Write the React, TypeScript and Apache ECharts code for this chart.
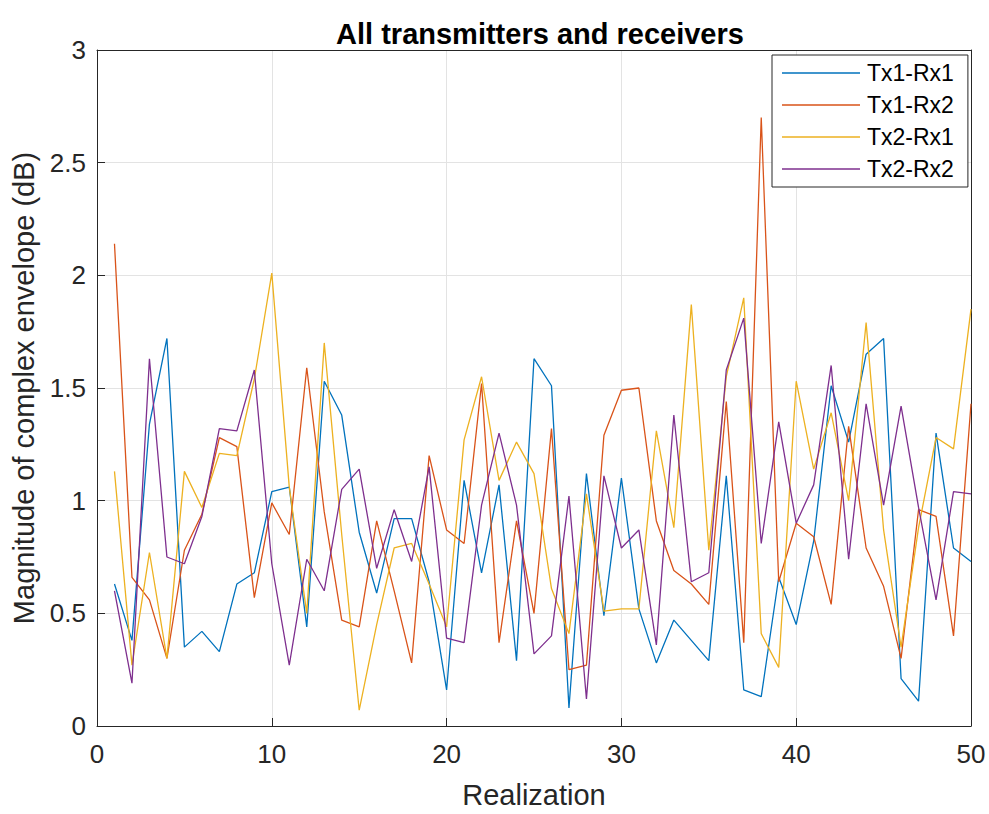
import React, { useEffect, useRef } from "react";
import * as echarts from "echarts";

const realizations: number[] = Array.from({ length: 50 }, (_, i) => i + 1);

const seriesNames: string[] = ["Tx1-Rx1", "Tx1-Rx2", "Tx2-Rx1", "Tx2-Rx2"];

const tx1rx1: number[] = [
  0.63, 0.38, 1.34, 1.72, 0.35, 0.42, 0.33, 0.63, 0.68, 1.04,
  1.06, 0.44, 1.53, 1.38, 0.86, 0.59, 0.92, 0.92, 0.64, 0.16,
  1.09, 0.68, 1.07, 0.29, 1.63, 1.51, 0.08, 1.12, 0.49, 1.10,
  0.52, 0.28, 0.47, 0.38, 0.29, 1.11, 0.16, 0.13, 0.66, 0.45,
  0.82, 1.51, 1.26, 1.65, 1.72, 0.21, 0.11, 1.30, 0.79, 0.73,
];
const tx1rx2: number[] = [
  2.14, 0.66, 0.56, 0.30, 0.78, 0.94, 1.28, 1.24, 0.57, 0.99,
  0.85, 1.59, 0.95, 0.47, 0.44, 0.91, 0.60, 0.28, 1.20, 0.87,
  0.81, 1.52, 0.37, 0.91, 0.50, 1.32, 0.25, 0.27, 1.29, 1.49,
  1.50, 0.91, 0.69, 0.63, 0.54, 1.44, 0.37, 2.70, 0.64, 0.90,
  0.84, 0.54, 1.33, 0.79, 0.62, 0.30, 0.96, 0.93, 0.40, 1.43,
];
const tx2rx1: number[] = [
  1.13, 0.27, 0.77, 0.30, 1.13, 0.97, 1.21, 1.20, 1.54, 2.01,
  1.06, 0.50, 1.70, 0.85, 0.07, 0.45, 0.79, 0.81, 0.63, 0.44,
  1.27, 1.55, 1.09, 1.26, 1.12, 0.61, 0.41, 1.03, 0.51, 0.52,
  0.52, 1.31, 0.88, 1.87, 0.78, 1.55, 1.90, 0.41, 0.26, 1.53,
  1.14, 1.39, 1.00, 1.79, 0.87, 0.35, 0.88, 1.28, 1.23, 1.85,
];
const tx2rx2: number[] = [
  0.60, 0.19, 1.63, 0.75, 0.72, 0.93, 1.32, 1.31, 1.58, 0.72,
  0.27, 0.74, 0.60, 1.05, 1.14, 0.70, 0.96, 0.73, 1.15, 0.39,
  0.37, 0.98, 1.30, 0.98, 0.32, 0.40, 1.02, 0.12, 1.11, 0.79,
  0.87, 0.36, 1.38, 0.64, 0.68, 1.58, 1.81, 0.81, 1.35, 0.90,
  1.07, 1.60, 0.74, 1.43, 0.98, 1.42, 0.97, 0.56, 1.04, 1.03,
];

const allSeries: number[][] = [tx1rx1, tx1rx2, tx2rx1, tx2rx2];
const colors: string[] = ["#0072BD", "#D95319", "#EDB120", "#7E2F8E"];

const FONT = "'Liberation Sans', Arial, Helvetica, sans-serif";
const AXIS_COLOR = "#262626";

export default function App() {
  const ref = useRef<HTMLDivElement>(null);

  useEffect(() => {
    if (!ref.current) return;
    const chart = echarts.init(ref.current, undefined, { renderer: "svg" });
    const option: any = {
      animation: false,
      backgroundColor: "#ffffff",
      title: {
        text: "All transmitters and receivers",
        left: 535,
        textAlign: "center",
        top: 14,
        textStyle: { fontFamily: FONT, fontSize: 29, fontWeight: "bold", color: "#000000" },
      },
      legend: {
        data: seriesNames.map((n) => ({ name: n, icon: "rect" })),
        orient: "vertical",
        left: 772,
        top: 55,
        padding: [6.5, 14, 6.5, 10],
        itemWidth: 78,
        itemHeight: 1.5,
        itemGap: 9,
        backgroundColor: "#ffffff",
        borderColor: "#262626",
        borderWidth: 1,
        borderRadius: 0,
        textStyle: { fontFamily: FONT, fontSize: 23, lineHeight: 23, color: "#000000", padding: [0, 0, 0, 2] },
      },
      grid: { left: 97, right: 18, top: 50, bottom: 78, containLabel: false },
      xAxis: [
        {
          type: "value",
          min: 0,
          max: 50,
          interval: 10,
          name: "Realization",
          nameLocation: "middle",
          nameGap: 54,
          nameTextStyle: { fontFamily: FONT, fontSize: 29, color: AXIS_COLOR },
          axisLine: { show: true, lineStyle: { color: AXIS_COLOR, width: 1 } },
          axisTick: { show: true, inside: true, length: 8, lineStyle: { color: AXIS_COLOR } },
          axisLabel: { fontFamily: FONT, fontSize: 26, color: AXIS_COLOR, margin: 15 },
          splitLine: { show: true, lineStyle: { color: "#e3e3e3", width: 1 } },
        },
        {
          type: "value",
          position: "top",
          min: 0,
          max: 50,
          interval: 10,
          axisLine: { show: true, onZero: false, lineStyle: { color: AXIS_COLOR, width: 1 } },
          axisTick: { show: false },
          axisLabel: { show: false },
          splitLine: { show: false },
        },
      ],
      yAxis: [
        {
          type: "value",
          min: 0,
          max: 3,
          interval: 0.5,
          name: "Magnitude of complex envelope (dB)",
          nameLocation: "middle",
          nameGap: 55,
          nameTextStyle: { fontFamily: FONT, fontSize: 29, color: AXIS_COLOR },
          axisLine: { show: true, lineStyle: { color: AXIS_COLOR, width: 1 } },
          axisTick: { show: true, inside: true, length: 8, lineStyle: { color: AXIS_COLOR } },
          axisLabel: { fontFamily: FONT, fontSize: 26, color: AXIS_COLOR, margin: 11 },
          splitLine: { show: true, lineStyle: { color: "#e3e3e3", width: 1 } },
        },
        {
          type: "value",
          position: "right",
          min: 0,
          max: 3,
          interval: 0.5,
          axisLine: { show: true, onZero: false, lineStyle: { color: AXIS_COLOR, width: 1 } },
          axisTick: { show: false },
          axisLabel: { show: false },
          splitLine: { show: false },
        },
      ],
      series: seriesNames.map((name, si) => ({
        name,
        type: "line",
        xAxisIndex: 0,
        yAxisIndex: 0,
        symbol: "none",
        showSymbol: false,
        color: colors[si],
        itemStyle: { color: colors[si] },
        lineStyle: { color: colors[si], width: 1.3 },
        data: realizations.map((r, i) => [r, allSeries[si][i]]),
      })),
    };
    chart.setOption(option);
    return () => chart.dispose();
  }, []);

  return (
    <div
      ref={ref}
      style={{ position: "fixed", left: 0, top: 0, width: 989, height: 814 }}
    />
  );
}
